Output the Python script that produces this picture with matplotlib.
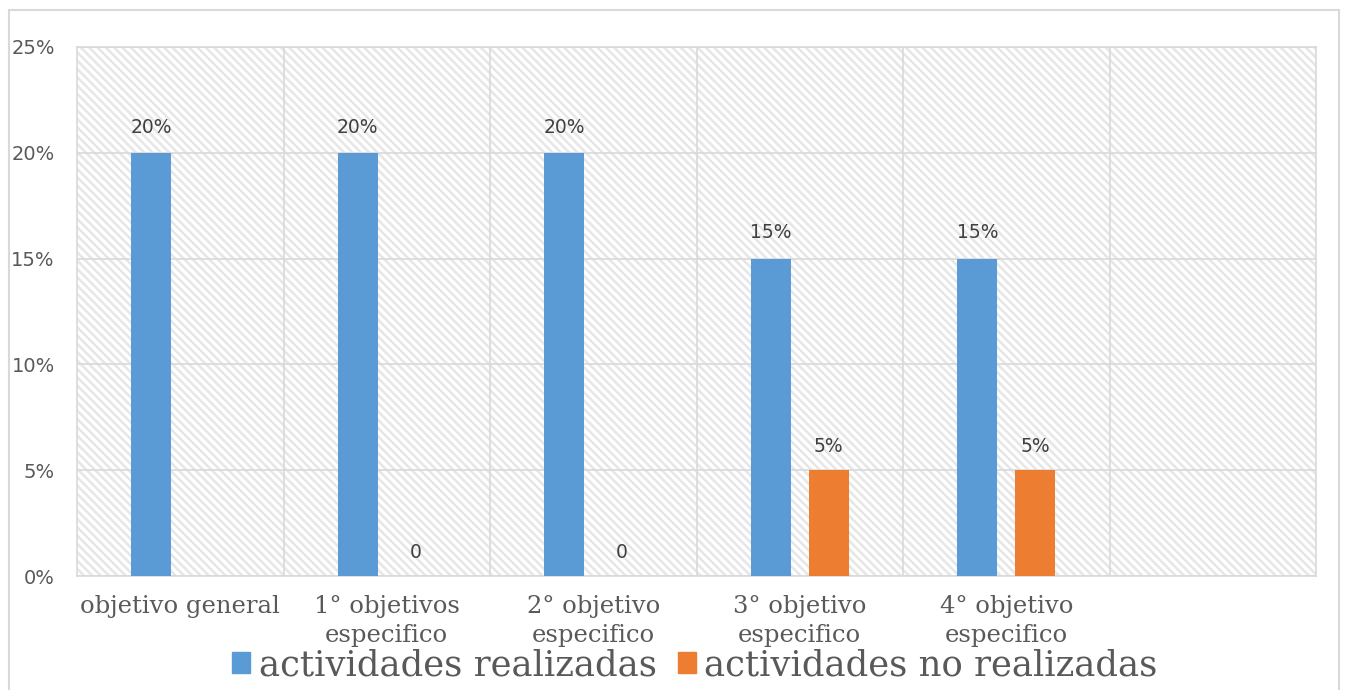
import matplotlib
matplotlib.use("Agg")
import matplotlib.pyplot as plt
from matplotlib.patches import Rectangle
import numpy as np

categorias = ["objetivo general", "1° objetivos\nespecifico", "2° objetivo\nespecifico",
              "3° objetivo\nespecifico", "4° objetivo\nespecifico", ""]
realizadas = [20, 20, 20, 15, 15, None]
no_realizadas = [None, 0, 0, 5, 5, None]
serie_nombres = ["actividades realizadas", "actividades no realizadas"]
yticks = [0, 5, 10, 15, 20, 25]

azul = "#5B9BD5"
naranja = "#ED7D31"
gris_txt = "#595959"
gris_linea = "#d9d9d9"

plt.rcParams["hatch.linewidth"] = 1.8
plt.rcParams["hatch.color"] = "#e6e6e6"

fig = plt.figure(figsize=(13.48, 6.9), dpi=100)
# marco exterior del grafico
fig.patches.append(Rectangle((9 / 1348, -0.01), 1330 / 1348, 1 - 10 / 690 + 0.01,
                             transform=fig.transFigure, fill=False,
                             edgecolor=gris_linea, linewidth=1.5))
ax = fig.add_axes([77 / 1348, 1 - 576 / 690, (1316 - 77) / 1348, (576 - 47) / 690])

# fondo rayado
ax.add_patch(Rectangle((0, 0), 1, 1, transform=ax.transAxes, facecolor="white",
                       hatch="\\\\\\\\", edgecolor="#e6e6e6", linewidth=0, zorder=0))

n = len(categorias)
x = np.arange(n)
ancho = 0.194
desp = 0.14

for i in range(n):
    if realizadas[i] is not None:
        ax.bar(x[i] - desp, realizadas[i], ancho, color=azul, zorder=3)
        ax.annotate(f"{realizadas[i]}%", (x[i] - desp, realizadas[i]), xytext=(0, 18.5),
                    textcoords="offset points", ha="center", va="center",
                    fontsize=13.5, color="#404040")
    if no_realizadas[i] is not None:
        ax.bar(x[i] + desp, no_realizadas[i], ancho, color=naranja, zorder=3)
        txt = f"{no_realizadas[i]}%" if no_realizadas[i] > 0 else "0"
        ax.annotate(txt, (x[i] + desp, no_realizadas[i]), xytext=(0, 17),
                    textcoords="offset points", ha="center", va="center",
                    fontsize=13.5, color="#404040")

ax.set_xlim(-0.5, n - 0.5)
ax.set_ylim(0, 25)
ax.set_yticks(yticks)
ax.set_yticklabels([f"{v}%" for v in yticks], fontsize=14, color=gris_txt)
ax.set_xticks(x)
ax.set_xticklabels(categorias, fontsize=17.5, color=gris_txt, family="DejaVu Serif",
                   linespacing=1.3)
ax.tick_params(axis="both", length=0)
ax.tick_params(axis="y", pad=16)
ax.tick_params(axis="x", pad=14)

for v in yticks:
    ax.axhline(v, color=gris_linea, linewidth=1.2, zorder=1)
for b in np.arange(0.5, n - 0.5, 1):
    ax.axvline(b, color=gris_linea, linewidth=1.2, zorder=1)
for s in ax.spines.values():
    s.set_color(gris_linea)
    s.set_linewidth(1.2)

handles = [Rectangle((0, 0), 1, 1, color=azul), Rectangle((0, 0), 1, 1, color=naranja)]
fig.legend(handles, serie_nombres, loc="center",
           bbox_to_anchor=(0.5 + 21 / 1348, 1 - 665 / 690),
           ncol=2, frameon=False, prop={"family": "DejaVu Serif", "size": 25.5},
           labelcolor=gris_txt, handlelength=0.5, handleheight=0.5,
           handletextpad=0.25, columnspacing=0.6, borderpad=0)

fig.savefig("out.png", dpi=100)
